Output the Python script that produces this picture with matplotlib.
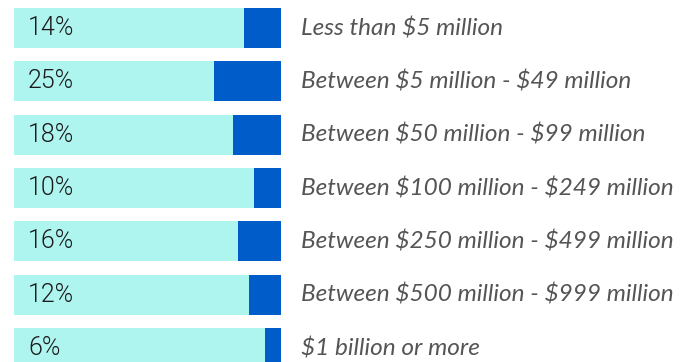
import matplotlib
matplotlib.use("Agg")
import matplotlib.pyplot as plt

plt.rcParams["text.parse_math"] = False

categories = ["Less than $5 million", "Between $5 million - $49 million",
              "Between $50 million - $99 million", "Between $100 million - $249 million",
              "Between $250 million - $499 million", "Between $500 million - $999 million",
              "$1 billion or more"]
values = [14, 25, 18, 10, 16, 12, 6]
labels = [f"{v}%" for v in values]

light = "#AEF4EF"
dark = "#005CC8"

fig = plt.figure(figsize=(6.82, 3.62), dpi=100)
ax = fig.add_axes([14/682, 0, 267/682, 1])
y = list(range(len(values)))
ax.barh(y, [100]*len(values), height=0.75, color=light, linewidth=0)
ax.barh(y, values, left=[100 - v for v in values], height=0.75, color=dark, linewidth=0)
ax.set_xlim(0, 100)
ax.set_ylim(6.2625, -0.525)
ax.axis("off")

for yi, lab, cat in zip(y, labels, categories):
    ax.text(5.2, yi, lab, va="center", ha="left", fontsize=18, color="#1a1a1a",
            family="Roboto", fontweight=300)
    ax.text(107.5, yi, cat, va="center", ha="left", fontsize=17.6, color="#555555",
            family="Lato", style="italic", clip_on=False)

fig.savefig("out.png", dpi=100)
